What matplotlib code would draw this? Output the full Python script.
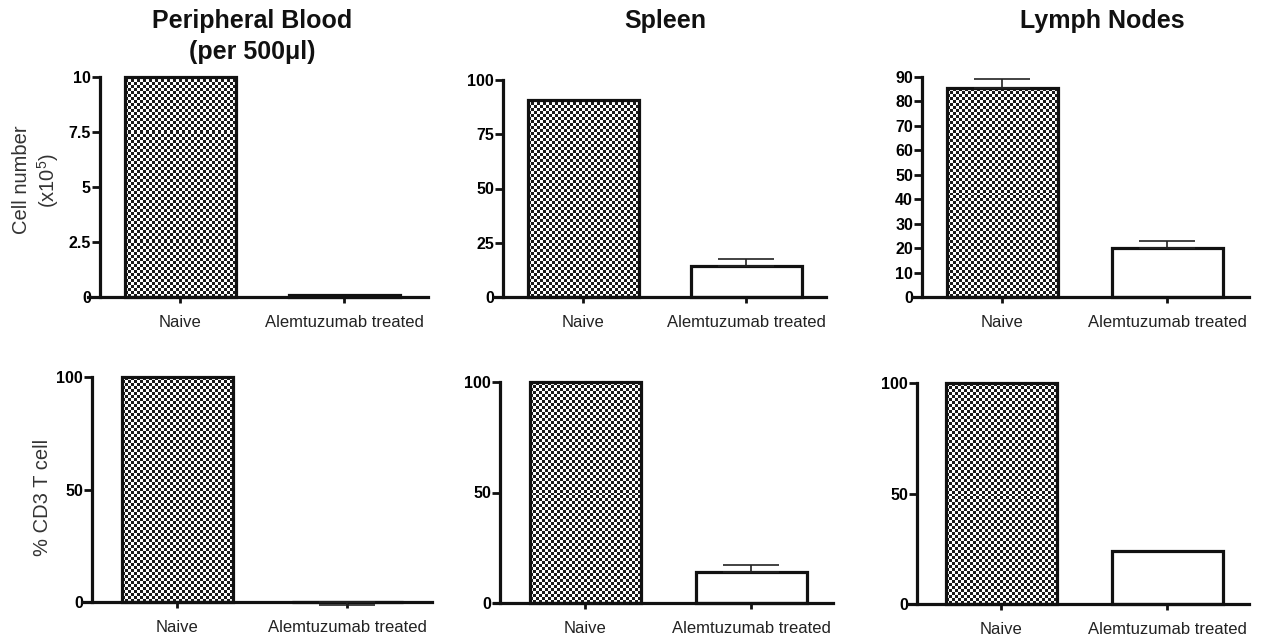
import numpy as np
import matplotlib
matplotlib.use("Agg")
import matplotlib.pyplot as plt
from matplotlib.colors import ListedColormap

plt.rcParams['font.family'] = ['Liberation Sans', 'DejaVu Sans']
plt.rcParams['mathtext.fontset'] = 'custom'
plt.rcParams['mathtext.rm'] = 'Liberation Sans'

groups = ["Naive", "Alemtuzumab treated"]
titles = ["Peripheral Blood\n(per 500\u03bcl)", "Spleen", "Lymph Nodes"]

# top row: cell number (x10^5)
count_blood = [10.0, 0.1]
count_blood_err = [0.0, 0.0]
count_spleen = [91.0, 14.1]
count_spleen_err = [0.0, 3.3]
count_lymph = [85.4, 20.2]
count_lymph_err = [3.9, 2.6]

# bottom row: % CD3 T cell
cd3_blood = [100.0, 0.0]
cd3_blood_err_low = [0.0, 1.5]
cd3_spleen = [100.0, 14.2]
cd3_spleen_err = [0.0, 3.0]
cd3_lymph = [100.0, 23.8]
cd3_lymph_err = [0.0, 0.0]

top_ticks = [[0, 2.5, 5, 7.5, 10], [0, 25, 50, 75, 100], list(range(0, 100, 10))]
top_ticklabels = [["0", "2.5", "5", "7.5", "10"], None, None]
bottom_ticks = [0, 50, 100]

W, H = 1261, 637
fig = plt.figure(figsize=(W / 100, H / 100), dpi=100)

# pixel layout: x-axis start, y-axis x, x-axis end, top, zero, tick0, tick1
layout = [
    (88, 100, 428, 77, 297, 180, 344),
    (494, 503, 826, 80, 297, 583, 746),
    (912, 922, 1249, 77, 297, 1002, 1167),
    (82, 92, 432, 377, 602, 177, 347),
    (494, 500, 833, 382, 603, 585, 751),
    (908, 917, 1249, 383, 604, 1001, 1167),
]
bar_px = 111
checker_cmap = ListedColormap(['#ffffff', '#1a1a1a'])


def checker_fill(ax, x, w, h, cell=3.0):
    p0 = ax.transData.transform((x - w / 2, 0))
    p1 = ax.transData.transform((x + w / 2, h))
    nx = max(1, int(round(abs(p1[0] - p0[0]) / cell)))
    ny = max(1, int(round(abs(p1[1] - p0[1]) / cell)))
    grid = np.add.outer(np.arange(ny), np.arange(nx)) % 2
    ax.imshow(grid, extent=(x - w / 2, x + w / 2, 0, h), cmap=checker_cmap,
              interpolation='nearest', aspect='auto', origin='lower', zorder=1)


def panel(idx, values, err_lo, err_hi, ymax, ticks, ticklabels=None):
    xs, yax, xe, yt, yz, t0, t1 = layout[idx]
    ax = fig.add_axes([xs / W, 1 - yz / H, (xe - xs) / W, (yz - yt) / H])
    unit = t1 - t0
    xlo = -(t0 - xs) / unit
    xhi = 1 + (xe - t1) / unit
    ax.set_xlim(xlo, xhi)
    ax.set_ylim(0, ymax)
    w = bar_px / unit
    pos = [0, 1]
    checker_fill(ax, pos[0], w, values[0])
    ax.bar(pos[0], values[0], width=w, facecolor='none', edgecolor='#111111',
           linewidth=2.3, zorder=2, clip_on=False)
    ax.bar(pos[1], values[1], width=w, facecolor='white', edgecolor='#111111',
           linewidth=2.3, zorder=2, clip_on=False)
    for p, v, lo, hi in zip(pos, values, err_lo, err_hi):
        if lo > 0 or hi > 0:
            ax.errorbar(p, v, yerr=[[lo], [hi]], fmt='none', ecolor='#222222',
                        elinewidth=1.2, capsize=20, capthick=1.2, zorder=3,
                        clip_on=False)
    ax.set_xlim(xlo, xhi)
    ax.set_ylim(0, ymax)
    for s in ['top', 'right']:
        ax.spines[s].set_visible(False)
    ax.spines['left'].set_position(('data', -(t0 - yax) / unit))
    ax.spines['left'].set_bounds(0, ymax)
    for s in ['left', 'bottom']:
        ax.spines[s].set_linewidth(2.3)
        ax.spines[s].set_color('#111111')
    ax.set_yticks(ticks)
    if ticklabels is not None:
        ax.set_yticklabels(ticklabels)
    ax.set_xticks(pos)
    ax.set_xticklabels(groups, fontsize=12, color='#222222')
    ax.tick_params(axis='y', length=6, width=2.0, pad=0.5, labelsize=11.5,
                   color='#111111')
    ax.tick_params(axis='x', length=4, width=2.0, pad=9, color='#111111')
    for lab in ax.get_yticklabels():
        lab.set_fontweight('bold')
    return ax


zeros = [0.0, 0.0]
panel(0, count_blood, zeros, count_blood_err, 10, top_ticks[0], top_ticklabels[0])
panel(1, count_spleen, zeros, count_spleen_err, 100, top_ticks[1])
panel(2, count_lymph, zeros, count_lymph_err, 90, top_ticks[2])
panel(3, cd3_blood, cd3_blood_err_low, zeros, 100, bottom_ticks)
panel(4, cd3_spleen, zeros, cd3_spleen_err, 100, bottom_ticks)
panel(5, cd3_lymph, zeros, cd3_lymph_err, 100, bottom_ticks)

# column titles
fig.text(252 / W, 1 - 21 / H, "Peripheral Blood", ha='center', va='center',
         fontsize=18, fontweight='bold', color='#111111')
fig.text(252 / W, 1 - 52 / H, "(per 500\u03bcl)", ha='center', va='center',
         fontsize=18, fontweight='bold', color='#111111')
fig.text(665 / W, 1 - 21 / H, titles[1], ha='center', va='center',
         fontsize=18, fontweight='bold', color='#111111')
fig.text(1102 / W, 1 - 21 / H, titles[2], ha='center', va='center',
         fontsize=18, fontweight='bold', color='#111111')

# y labels
fig.text(22 / W, 1 - 180 / H, "Cell number", rotation=90, ha='center',
         va='center', fontsize=14.5, color='#333333')
fig.text(48 / W, 1 - 180 / H, "(x10$^{5}$)", rotation=90, ha='center',
         va='center', fontsize=14.5, color='#333333')
fig.text(42 / W, 1 - 497 / H, "% CD3 T cell", rotation=90, ha='center',
         va='center', fontsize=14.5, color='#333333')

fig.savefig("out.png", dpi=100)
